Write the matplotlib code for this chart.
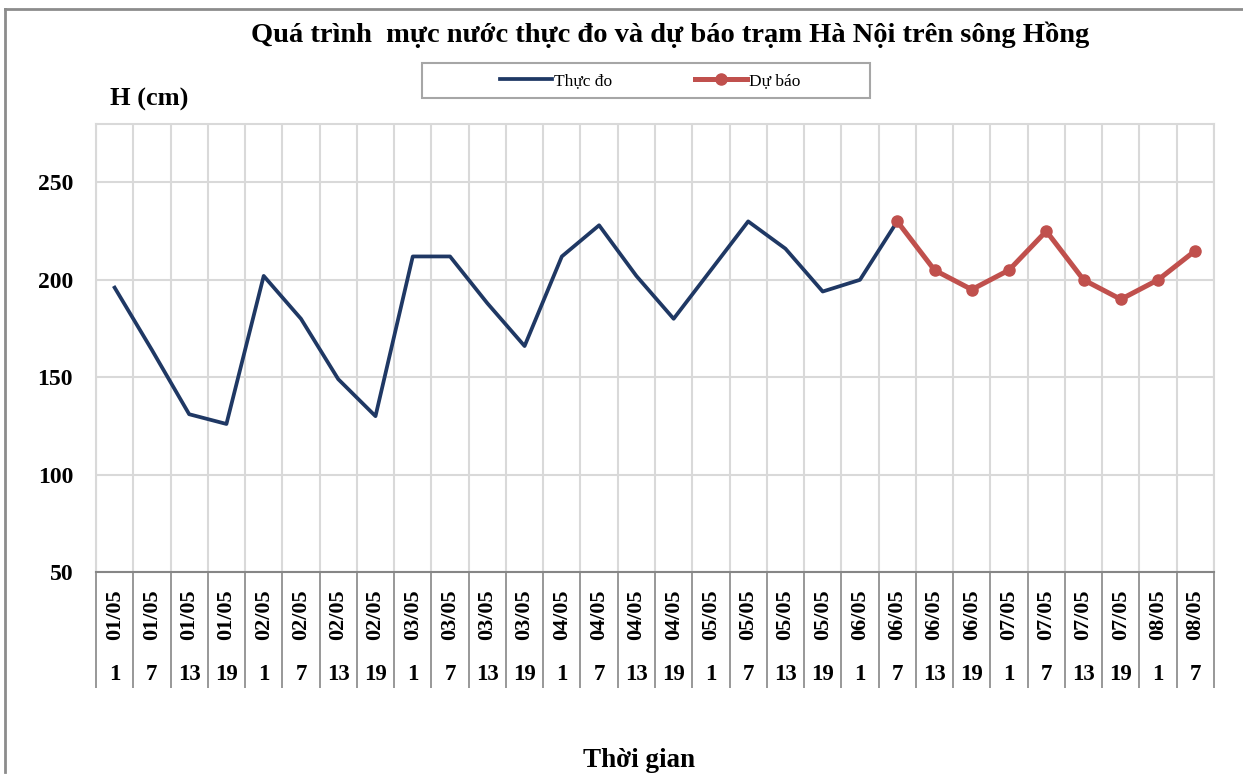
import matplotlib.pyplot as plt
import matplotlib.transforms as mtransforms
from matplotlib.patches import Rectangle
from matplotlib.lines import Line2D

# data
date_labels = ['01/05'] * 4 + ['02/05'] * 4 + ['03/05'] * 4 + ['04/05'] * 4 + \
              ['05/05'] * 4 + ['06/05'] * 4 + ['07/05'] * 4 + ['08/05'] * 2
hour_labels = ['1', '7', '13', '19'] * 7 + ['1', '7']

observed = [196, 164, 131, 126, 202, 180, 149, 130, 212, 212, 188, 166,
            212, 228, 202, 180, 205, 230, 216, 194, 200, 230]
forecast = [230, 205, 195, 205, 225, 200, 190, 200, 215]
forecast_start = 21

y_ticks = [50, 100, 150, 200, 250]

W, H = 1243, 774
serif = ['Liberation Serif', 'DejaVu Serif']
navy = '#1f3864'
red = '#c0504d'
grid_col = '#d9d9d9'
axis_col = '#868686'


def px(x, y):
    """pixel (from top-left) -> figure fraction"""
    return x / W, 1 - y / H


fig = plt.figure(figsize=(W / 100, H / 100), dpi=100)
fig.patch.set_facecolor('white')

left, right, top, bottom = 96, 1214, 124, 572
ax = fig.add_axes([left / W, 1 - bottom / H, (right - left) / W, (bottom - top) / H])

n = len(hour_labels)
x_obs = list(range(len(observed)))
x_fc = list(range(forecast_start, forecast_start + len(forecast)))

ax.plot(x_obs, observed, color=navy, lw=2.7, zorder=3, label='Thực đo')
ax.plot(x_fc, forecast, color=red, lw=3.6, marker='o', markersize=8, zorder=4,
        label='Dự báo')

ax.set_xlim(-0.5, n - 0.5)
ax.set_ylim(50, 280)
ax.set_yticks(y_ticks)
ax.set_yticklabels([str(v) for v in y_ticks], fontfamily=serif, fontweight='bold',
                   fontsize=17)
ax.tick_params(axis='y', length=0, pad=16.5)

# category boundaries: gridlines above, long tick lines below for the two-row labels
bounds = [i - 0.5 for i in range(n + 1)]
ax.set_xticks(bounds)
ax.set_xticklabels([])
ax.tick_params(axis='x', direction='out', length=83.5, width=1.2, color=axis_col)

ax.grid(True, color=grid_col, lw=1.5, zorder=0)
ax.set_axisbelow(True)

for side in ['top', 'right', 'left']:
    ax.spines[side].set_color(grid_col)
    ax.spines[side].set_linewidth(1.5)
ax.spines['bottom'].set_color(axis_col)
ax.spines['bottom'].set_linewidth(1.5)

trans = mtransforms.blended_transform_factory(ax.transData, ax.transAxes)
date_y = (bottom - 615) / (bottom - top)
hour_y = (bottom - 675) / (bottom - top)
for i in range(n):
    ax.text(i, date_y, date_labels[i], transform=trans, rotation=90,
            ha='center', va='center', fontfamily=serif, fontweight='bold',
            fontsize=16)
    ax.text(i, hour_y, hour_labels[i], transform=trans,
            ha='center', va='center', fontfamily=serif, fontweight='bold',
            fontsize=16.5)

# titles
fig.text(*px(670, 42), 'Quá trình  mực nước thực đo và dự báo trạm Hà Nội trên sông Hồng',
         ha='center', va='baseline', fontfamily=serif, fontweight='bold', fontsize=20.5)
fig.text(*px(149, 106), 'H (cm)', ha='center', va='baseline', fontfamily=serif,
         fontweight='bold', fontsize=19)
fig.text(*px(639, 767), 'Thời gian', ha='center', va='baseline', fontfamily=serif,
         fontweight='bold', fontsize=19.5)

# legend with its own frame
bx0, by0 = px(422, 98)
bx1, by1 = px(870, 63)
fig.patches.append(Rectangle((bx0, by0), bx1 - bx0, by1 - by0, transform=fig.transFigure,
                             facecolor='white', edgecolor='#a6a6a6', lw=1.5))
handles, labels = ax.get_legend_handles_labels()
leg = fig.legend(handles, labels, loc='center', bbox_to_anchor=px(650, 81), ncol=2,
                 frameon=False, handlelength=3.0, handletextpad=0.1,
                 columnspacing=4.8, prop={'family': serif, 'size': 12.5})

# outer chart border (top and left edges visible)
fig.add_artist(Line2D([5 / W, 1], [1 - 9 / H, 1 - 9 / H], transform=fig.transFigure,
                      color='#8c8c8c', lw=2))
fig.add_artist(Line2D([5 / W, 5 / W], [1 - 9 / H, 1 - 772 / H], transform=fig.transFigure,
                      color='#8c8c8c', lw=2))

fig.savefig('out.png', dpi=100, facecolor='white')
